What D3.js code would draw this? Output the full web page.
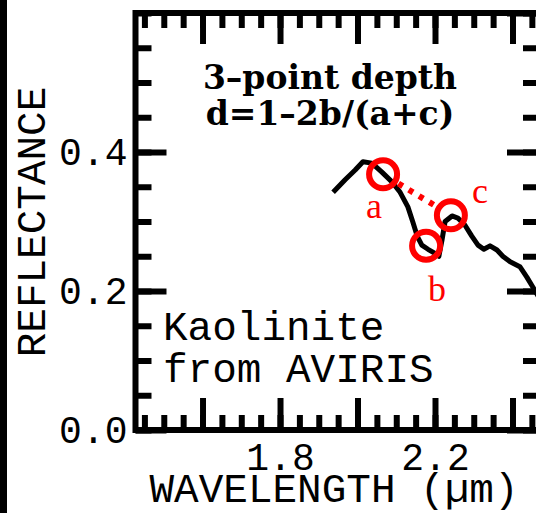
<!DOCTYPE html>
<html>
<head>
<meta charset="utf-8">
<script src="https://cdn.jsdelivr.net/npm/d3@7"></script>
<style>
  body { margin: 0; background: #fff; }
  svg { display: block; }
</style>
</head>
<body>
<svg width="536" height="513"></svg>
<script>
// kaolinite spectrum
var wavelength = [1.937, 1.968, 1.994, 2.014, 2.037, 2.063, 2.089, 2.110, 2.130, 2.143, 2.154, 2.166,
                  2.182, 2.200, 2.210, 2.218, 2.226, 2.244, 2.259, 2.277, 2.295, 2.311, 2.326, 2.342,
                  2.360, 2.375, 2.394, 2.419, 2.437, 2.452, 2.466, 2.475];
var reflectance = [0.342, 0.360, 0.374, 0.386, 0.384, 0.371, 0.357, 0.342, 0.321, 0.299, 0.279, 0.266,
                   0.260, 0.254, 0.250, 0.273, 0.300, 0.308, 0.305, 0.295, 0.279, 0.266, 0.260, 0.265,
                   0.259, 0.250, 0.242, 0.235, 0.220, 0.206, 0.193, 0.185];

// the three band-depth points
var pointNames = ["a", "b", "c"];
var pointWavelength = [2.066, 2.177, 2.241];
var pointReflectance = [0.368, 0.265, 0.309];

var xTickLabels = [1.8, 2.2];
var yTickLabels = [0.0, 0.2, 0.4];
var titleLines = ["3\u2013point depth", "d=1\u20132b/(a+c)"];
var noteLines = ["Kaolinite", "from AVIRIS"];

var svg = d3.select("svg");
var pl = 135.5, pr = 540, pt = 13, pb = 430;
var mono = "'Liberation Mono', 'DejaVu Sans Mono', monospace";

var x = d3.scaleLinear().domain([1.427, 2.471]).range([pl, pr]);
var y = d3.scaleLinear().domain([0, 0.6]).range([pb, pt]);

svg.append("rect")
    .attr("x", 0).attr("y", 0).attr("width", 7).attr("height", 513)
    .attr("fill", "#000");

function tidy(g) {
  g.select(".domain").remove();
  g.selectAll(".tick line").attr("stroke", "#000").attr("stroke-width", 6);
}

var fmt = d3.format(".1f");

// bottom
svg.append("g").attr("transform", "translate(0," + pb + ")")
    .call(d3.axisBottom(x).ticks(20).tickSize(-15).tickFormat(""))
    .call(tidy);
svg.append("g").attr("transform", "translate(0," + pb + ")")
    .call(d3.axisBottom(x).ticks(5).tickSize(-32).tickPadding(13)
      .tickFormat(function(d){
        return xTickLabels.some(function(v){ return Math.abs(v - d) < 1e-6; }) ? fmt(d) : "";
      }))
    .call(tidy)
    .selectAll("text")
      .attr("font-family", mono).attr("font-size", 38).attr("fill", "#000");

// top
svg.append("g").attr("transform", "translate(0," + pt + ")")
    .call(d3.axisTop(x).ticks(20).tickSize(-15).tickFormat(""))
    .call(tidy);
svg.append("g").attr("transform", "translate(0," + pt + ")")
    .call(d3.axisTop(x).ticks(5).tickSize(-31).tickFormat(""))
    .call(tidy);

// left
svg.append("g").attr("transform", "translate(" + pl + ",0)")
    .call(d3.axisLeft(y).ticks(12).tickSize(-16).tickFormat(""))
    .call(tidy);
svg.append("g").attr("transform", "translate(" + pl + ",0)")
    .call(d3.axisLeft(y).tickValues(yTickLabels).tickSize(-31).tickPadding(8).tickFormat(fmt))
    .call(tidy)
    .selectAll("text")
      .attr("font-family", mono).attr("font-size", 38).attr("fill", "#000");

// right
svg.append("g").attr("transform", "translate(" + pr + ",0)")
    .call(d3.axisRight(y).ticks(12).tickSize(-17).tickFormat(""))
    .call(tidy);
svg.append("g").attr("transform", "translate(" + pr + ",0)")
    .call(d3.axisRight(y).ticks(3).tickSize(-33).tickFormat(""))
    .call(tidy);

// frame
svg.append("rect")
    .attr("x", pl).attr("y", pt)
    .attr("width", pr - pl).attr("height", pb - pt)
    .attr("fill", "none").attr("stroke", "#000").attr("stroke-width", 6);

svg.append("clipPath").attr("id", "plot")
  .append("rect")
    .attr("x", pl).attr("y", pt)
    .attr("width", pr - pl).attr("height", pb - pt);

// spectrum
var line = d3.line()
    .x(function(d){ return x(wavelength[d]); })
    .y(function(d){ return y(reflectance[d]); });

svg.append("path")
    .attr("clip-path", "url(#plot)")
    .attr("d", line(d3.range(wavelength.length)))
    .attr("fill", "none")
    .attr("stroke", "#000")
    .attr("stroke-width", 5)
    .attr("stroke-linejoin", "round");

// dotted continuum from a to c, stopped at the circle edges
var r = 14;
var ax = x(pointWavelength[0]), ay = y(pointReflectance[0]);
var cx = x(pointWavelength[2]), cy = y(pointReflectance[2]);
var len = Math.hypot(cx - ax, cy - ay);
var ux = (cx - ax) / len, uy = (cy - ay) / len;
svg.append("line")
    .attr("x1", ax + ux * (r + 4)).attr("y1", ay + uy * (r + 4))
    .attr("x2", cx - ux * (r + 4)).attr("y2", cy - uy * (r + 4))
    .attr("stroke", "#f00")
    .attr("stroke-width", 6)
    .attr("stroke-dasharray", "5,7");

svg.selectAll(".ring").data(pointNames).enter().append("circle")
    .attr("class", "ring")
    .attr("cx", function(d, i){ return x(pointWavelength[i]); })
    .attr("cy", function(d, i){ return y(pointReflectance[i]); })
    .attr("r", r)
    .attr("fill", "none")
    .attr("stroke", "#f00")
    .attr("stroke-width", 6);

// letter offsets from each ring
var labelOffset = {a: [-9, 44], b: [11, 55], c: [29, -12]};
svg.selectAll(".pt-label").data(pointNames).enter().append("text")
    .attr("class", "pt-label")
    .attr("x", function(d, i){ return x(pointWavelength[i]) + labelOffset[d][0]; })
    .attr("y", function(d, i){ return y(pointReflectance[i]) + labelOffset[d][1]; })
    .attr("text-anchor", "middle")
    .attr("font-family", "'Liberation Serif', 'DejaVu Serif', serif")
    .attr("font-size", 36)
    .attr("fill", "#f00")
    .text(function(d){ return d; });

// title
svg.selectAll(".title").data(titleLines).enter().append("text")
    .attr("class", "title")
    .attr("x", 330)
    .attr("y", function(d, i){ return 89 + i * 36; })
    .attr("text-anchor", "middle")
    .attr("font-family", "'DejaVu Serif', serif")
    .attr("font-weight", "bold")
    .attr("font-size", 33)
    .text(function(d){ return d; });

svg.selectAll(".note").data(noteLines).enter().append("text")
    .attr("class", "note")
    .attr("x", 163)
    .attr("y", function(d, i){ return 340 + i * 42; })
    .attr("font-family", mono)
    .attr("font-size", 41)
    .text(function(d){ return d; });

// axis titles
svg.append("text")
    .attr("transform", "translate(45,222) rotate(-90)")
    .attr("text-anchor", "middle")
    .attr("font-family", mono)
    .attr("font-size", 41)
    .text("REFLECTANCE");

svg.append("text")
    .attr("x", 334).attr("y", 502)
    .attr("text-anchor", "middle")
    .attr("font-family", mono)
    .attr("font-size", 41)
    .text("WAVELENGTH (\u00b5m)");
</script>
</body>
</html>
